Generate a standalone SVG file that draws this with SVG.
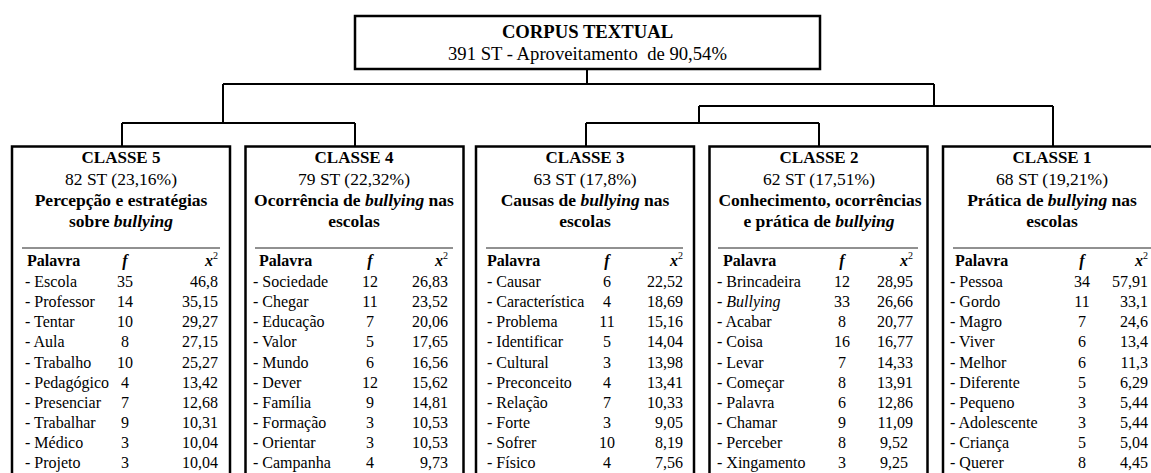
<svg xmlns="http://www.w3.org/2000/svg" width="1151" height="473" viewBox="0 0 1151 473" font-family="'Liberation Serif', 'Times New Roman', Tinos, 'DejaVu Serif', serif">
<style>
text{font-family:'Liberation Serif','Times New Roman',Tinos,'DejaVu Serif',serif;fill:#000}
.b{font-weight:bold}
.i{font-style:italic}
.c{text-anchor:middle}
.r{text-anchor:end}
.h1{font-size:17px;font-weight:bold}
.h2{font-size:17.5px}
.h3{font-size:17.5px;font-weight:bold}
.w{font-size:16px}
.box{fill:#fff;stroke:#000;stroke-width:2.5}
.rule{stroke:#222;stroke-width:1}
.sup{font-size:10px;font-weight:normal;font-style:normal}
</style>
<rect width="1151" height="473" fill="#fff"/>
<g id="connectors" fill="none" stroke="#000" stroke-width="2">
<path d="M587,69 V84 M223,84 H934 M223,84 V123 M122,123 H355 M122,123 V147 M355,123 V147"/>
<path d="M934,84 V106 M699,106 H1053 M1053,106 V147 M699,106 V123 M586,123 H819 M586,123 V147 M819,123 V147"/>
</g>
<g id="corpus">
<rect class="box" x="355" y="16" width="465" height="53" stroke-width="2.5"/>
<text class="b c" x="587.5" y="38" font-size="18.67">CORPUS TEXTUAL</text>
<text class="c" x="587.5" y="60" font-size="18.67" xml:space="preserve">391 ST - Aproveitamento  de 90,54%</text>
</g>
<g id="classe5">
<rect class="box" x="12" y="146.5" width="218" height="340"/>
<text class="h1 c" x="121" y="163">CLASSE 5</text>
<text class="h2 c" x="121" y="185">82 ST (23,16%)</text>
<text class="h3 c" x="121" y="206">Percepção e estratégias</text>
<text class="h3 c" x="121" y="227">sobre <tspan class="i">bullying</tspan></text>
<line class="rule" x1="22" y1="248" x2="220" y2="248"/>
<text class="w b" x="27" y="266">Palavra</text>
<text class="w b i c" x="125" y="266">f</text>
<text class="w b i r" x="218" y="266">x<tspan class="sup" dy="-7">2</tspan></text>
<g class="w">
<text x="25" y="287">- Escola</text><text class="c" x="125" y="287">35</text><text class="r" x="218" y="287">46,8</text>
<text x="25" y="307">- Professor</text><text class="c" x="125" y="307">14</text><text class="r" x="218" y="307">35,15</text>
<text x="25" y="327">- Tentar</text><text class="c" x="125" y="327">10</text><text class="r" x="218" y="327">29,27</text>
<text x="25" y="347">- Aula</text><text class="c" x="125" y="347">8</text><text class="r" x="218" y="347">27,15</text>
<text x="25" y="367.5">- Trabalho</text><text class="c" x="125" y="367.5">10</text><text class="r" x="218" y="367.5">25,27</text>
<text x="25" y="387.5">- Pedagógico</text><text class="c" x="125" y="387.5">4</text><text class="r" x="218" y="387.5">13,42</text>
<text x="25" y="407.5">- Presenciar</text><text class="c" x="125" y="407.5">7</text><text class="r" x="218" y="407.5">12,68</text>
<text x="25" y="427.5">- Trabalhar</text><text class="c" x="125" y="427.5">9</text><text class="r" x="218" y="427.5">10,31</text>
<text x="25" y="448">- Médico</text><text class="c" x="125" y="448">3</text><text class="r" x="218" y="448">10,04</text>
<text x="25" y="468">- Projeto</text><text class="c" x="125" y="468">3</text><text class="r" x="218" y="468">10,04</text>
</g>
</g>
<g id="classe4">
<rect class="box" x="245.5" y="146.5" width="218" height="340"/>
<text class="h1 c" x="354" y="163">CLASSE 4</text>
<text class="h2 c" x="354" y="185">79 ST (22,32%)</text>
<text class="h3 c" x="354" y="206">Ocorrência de <tspan class="i">bullying</tspan> nas</text>
<text class="h3 c" x="354" y="227">escolas</text>
<line class="rule" x1="255" y1="248" x2="453" y2="248"/>
<text class="w b" x="259" y="266">Palavra</text>
<text class="w b i c" x="370" y="266">f</text>
<text class="w b i r" x="448" y="266">x<tspan class="sup" dy="-7">2</tspan></text>
<g class="w">
<text x="253" y="287">- Sociedade</text><text class="c" x="370" y="287">12</text><text class="r" x="448" y="287">26,83</text>
<text x="253" y="307">- Chegar</text><text class="c" x="370" y="307">11</text><text class="r" x="448" y="307">23,52</text>
<text x="253" y="327">- Educação</text><text class="c" x="370" y="327">7</text><text class="r" x="448" y="327">20,06</text>
<text x="253" y="347">- Valor</text><text class="c" x="370" y="347">5</text><text class="r" x="448" y="347">17,65</text>
<text x="253" y="367.5">- Mundo</text><text class="c" x="370" y="367.5">6</text><text class="r" x="448" y="367.5">16,56</text>
<text x="253" y="387.5">- Dever</text><text class="c" x="370" y="387.5">12</text><text class="r" x="448" y="387.5">15,62</text>
<text x="253" y="407.5">- Família</text><text class="c" x="370" y="407.5">9</text><text class="r" x="448" y="407.5">14,81</text>
<text x="253" y="427.5">- Formação</text><text class="c" x="370" y="427.5">3</text><text class="r" x="448" y="427.5">10,53</text>
<text x="253" y="448">- Orientar</text><text class="c" x="370" y="448">3</text><text class="r" x="448" y="448">10,53</text>
<text x="253" y="468">- Campanha</text><text class="c" x="370" y="468">4</text><text class="r" x="448" y="468">9,73</text>
</g>
</g>
<g id="classe3">
<rect class="box" x="476" y="146.5" width="218" height="340"/>
<text class="h1 c" x="585" y="163">CLASSE 3</text>
<text class="h2 c" x="585" y="185">63 ST (17,8%)</text>
<text class="h3 c" x="585" y="206">Causas de <tspan class="i">bullying</tspan> nas</text>
<text class="h3 c" x="585" y="227">escolas</text>
<line class="rule" x1="486" y1="248" x2="683" y2="248"/>
<text class="w b" x="487" y="266">Palavra</text>
<text class="w b i c" x="607" y="266">f</text>
<text class="w b i r" x="683" y="266">x<tspan class="sup" dy="-7">2</tspan></text>
<g class="w">
<text x="487" y="287">- Causar</text><text class="c" x="607" y="287">6</text><text class="r" x="683" y="287">22,52</text>
<text x="487" y="307">- Característica</text><text class="c" x="607" y="307">4</text><text class="r" x="683" y="307">18,69</text>
<text x="487" y="327">- Problema</text><text class="c" x="607" y="327">11</text><text class="r" x="683" y="327">15,16</text>
<text x="487" y="347">- Identificar</text><text class="c" x="607" y="347">5</text><text class="r" x="683" y="347">14,04</text>
<text x="487" y="367.5">- Cultural</text><text class="c" x="607" y="367.5">3</text><text class="r" x="683" y="367.5">13,98</text>
<text x="487" y="387.5">- Preconceito</text><text class="c" x="607" y="387.5">4</text><text class="r" x="683" y="387.5">13,41</text>
<text x="487" y="407.5">- Relação</text><text class="c" x="607" y="407.5">7</text><text class="r" x="683" y="407.5">10,33</text>
<text x="487" y="427.5">- Forte</text><text class="c" x="607" y="427.5">3</text><text class="r" x="683" y="427.5">9,05</text>
<text x="487" y="448">- Sofrer</text><text class="c" x="607" y="448">10</text><text class="r" x="683" y="448">8,19</text>
<text x="487" y="468">- Físico</text><text class="c" x="607" y="468">4</text><text class="r" x="683" y="468">7,56</text>
</g>
</g>
<g id="classe2">
<rect class="box" x="709.5" y="146.5" width="218" height="340"/>
<text class="h1 c" x="819" y="163">CLASSE 2</text>
<text class="h2 c" x="819" y="185">62 ST (17,51%)</text>
<text class="h3 c" x="820" y="206">Conhecimento, ocorrências</text>
<text class="h3 c" x="819" y="227">e prática de <tspan class="i">bullying</tspan></text>
<line class="rule" x1="718" y1="248" x2="918" y2="248"/>
<text class="w b" x="723" y="266">Palavra</text>
<text class="w b i c" x="842" y="266">f</text>
<text class="w b i r" x="913" y="266">x<tspan class="sup" dy="-7">2</tspan></text>
<g class="w">
<text x="717" y="287">- Brincadeira</text><text class="c" x="842" y="287">12</text><text class="r" x="913" y="287">28,95</text>
<text x="717" y="307">- <tspan class="i">Bullying</tspan></text><text class="c" x="842" y="307">33</text><text class="r" x="913" y="307">26,66</text>
<text x="717" y="327">- Acabar</text><text class="c" x="842" y="327">8</text><text class="r" x="913" y="327">20,77</text>
<text x="717" y="347">- Coisa</text><text class="c" x="842" y="347">16</text><text class="r" x="913" y="347">16,77</text>
<text x="717" y="367.5">- Levar</text><text class="c" x="842" y="367.5">7</text><text class="r" x="913" y="367.5">14,33</text>
<text x="717" y="387.5">- Começar</text><text class="c" x="842" y="387.5">8</text><text class="r" x="913" y="387.5">13,91</text>
<text x="717" y="407.5">- Palavra</text><text class="c" x="842" y="407.5">6</text><text class="r" x="913" y="407.5">12,86</text>
<text x="717" y="427.5">- Chamar</text><text class="c" x="842" y="427.5">9</text><text class="r" x="913" y="427.5">11,09</text>
<text x="717" y="448">- Perceber</text><text class="c" x="842" y="448">8</text><text class="r" x="908" y="448">9,52</text>
<text x="717" y="468">- Xingamento</text><text class="c" x="842" y="468">3</text><text class="r" x="908" y="468">9,25</text>
</g>
</g>
<g id="classe1">
<rect class="box" x="943" y="146.5" width="218" height="340"/>
<text class="h1 c" x="1052" y="163">CLASSE 1</text>
<text class="h2 c" x="1052" y="185">68 ST (19,21%)</text>
<text class="h3 c" x="1052" y="206">Prática de <tspan class="i">bullying</tspan> nas</text>
<text class="h3 c" x="1052" y="227">escolas</text>
<line class="rule" x1="953" y1="248" x2="1151" y2="248"/>
<text class="w b" x="955" y="266">Palavra</text>
<text class="w b i c" x="1082" y="266">f</text>
<text class="w b i r" x="1148" y="266">x<tspan class="sup" dy="-7">2</tspan></text>
<g class="w">
<text x="950" y="287">- Pessoa</text><text class="c" x="1082" y="287">34</text><text class="r" x="1148" y="287">57,91</text>
<text x="950" y="307">- Gordo</text><text class="c" x="1082" y="307">11</text><text class="r" x="1148" y="307">33,1</text>
<text x="950" y="327">- Magro</text><text class="c" x="1082" y="327">7</text><text class="r" x="1148" y="327">24,6</text>
<text x="950" y="347">- Viver</text><text class="c" x="1082" y="347">6</text><text class="r" x="1148" y="347">13,4</text>
<text x="950" y="367.5">- Melhor</text><text class="c" x="1082" y="367.5">6</text><text class="r" x="1148" y="367.5">11,3</text>
<text x="950" y="387.5">- Diferente</text><text class="c" x="1082" y="387.5">5</text><text class="r" x="1148" y="387.5">6,29</text>
<text x="950" y="407.5">- Pequeno</text><text class="c" x="1082" y="407.5">3</text><text class="r" x="1148" y="407.5">5,44</text>
<text x="950" y="427.5">- Adolescente</text><text class="c" x="1082" y="427.5">3</text><text class="r" x="1148" y="427.5">5,44</text>
<text x="950" y="448">- Criança</text><text class="c" x="1082" y="448">5</text><text class="r" x="1148" y="448">5,04</text>
<text x="950" y="468">- Querer</text><text class="c" x="1082" y="468">8</text><text class="r" x="1148" y="468">4,45</text>
</g>
</g>
</svg>
